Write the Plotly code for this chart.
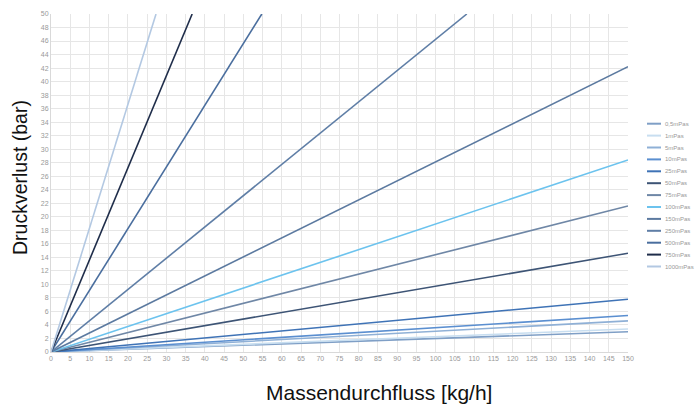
import plotly.graph_objects as go

names = ["0,5mPas", "1mPas", "5mPas", "10mPas", "25mPas", "50mPas", "75mPas",
         "100mPas", "150mPas", "250mPas", "500mPas", "750mPas", "1000mPas"]
# end points of each straight line, each starts at (0,0)
end_x = [150, 150, 150, 150, 150, 150, 150, 150, 150, 108.1, 54.8, 36.7, 27.3]
end_y = [3.0, 3.4, 4.6, 5.4, 7.8, 14.6, 21.6, 28.4, 42.2, 50, 50, 50, 50]
colors = ["#7f9fc6", "#c8def0", "#8fb0d6", "#5b8fd0", "#3f73b6", "#3d5475", "#6f87a6",
          "#6cc3ee", "#5c7aa0", "#5f7ea6", "#4a6e9e", "#1f2d4a", "#b3c8e2"]

x_ticks = list(range(0, 151, 5))
y_ticks = list(range(0, 51, 2))

L, R, T, B = 51, 628, 14, 352
W, H = 698, 407

def px(x):
    return (x - L) / (R - L)

def py(y):
    return (B - y) / (B - T)

fig = go.Figure()
for n, ex, ey, c in zip(names, end_x, end_y, colors):
    fig.add_trace(go.Scatter(x=[0, ex], y=[0, ey], mode="lines", name=n,
                             line=dict(color=c, width=1.6)))

fig.update_layout(
    width=W, height=H,
    margin=dict(l=L, r=W - R, t=T, b=H - B, autoexpand=False),
    paper_bgcolor="white", plot_bgcolor="white",
    font=dict(family="Liberation Sans, Arial", color="#888888", size=7),
    showlegend=False,
)
fig.update_xaxes(range=[0, 150], tickvals=x_ticks, showgrid=True, gridcolor="#e6e6e6",
                 gridwidth=1, zeroline=False, showline=True, linecolor="#d9d9d9",
                 ticks="", tickfont=dict(size=7, color="#999999"))
fig.update_yaxes(range=[0, 50], tickvals=y_ticks, showgrid=True, gridcolor="#e6e6e6",
                 gridwidth=1, zeroline=False, showline=True, linecolor="#d9d9d9",
                 ticks="", tickfont=dict(size=7, color="#999999"))

# legend drawn as shapes + text
for i, (n, c) in enumerate(zip(names, colors)):
    yy = 123.7 + i * 11.9
    fig.add_shape(type="line", xref="paper", yref="paper",
                  x0=px(647), x1=px(661), y0=py(yy), y1=py(yy),
                  line=dict(color=c, width=2))
    fig.add_annotation(text=n, xref="paper", yref="paper", x=px(663), y=py(yy),
                       xanchor="left", yanchor="middle", showarrow=False,
                       font=dict(size=6, color="#999999", family="Liberation Sans, Arial"))

fig.add_annotation(text="Massendurchfluss [kg/h]", xref="paper", yref="paper",
                   x=px(379), y=py(392), xanchor="center", yanchor="middle",
                   showarrow=False, font=dict(size=21, color="#111111", family="Liberation Sans, Arial"))
fig.add_annotation(text="Druckverlust (bar)", xref="paper", yref="paper",
                   x=px(20), y=py(178), xanchor="center", yanchor="middle",
                   textangle=-90, showarrow=False,
                   font=dict(size=19.5, color="#111111", family="Liberation Sans, Arial"))

fig.write_html("out.html")
